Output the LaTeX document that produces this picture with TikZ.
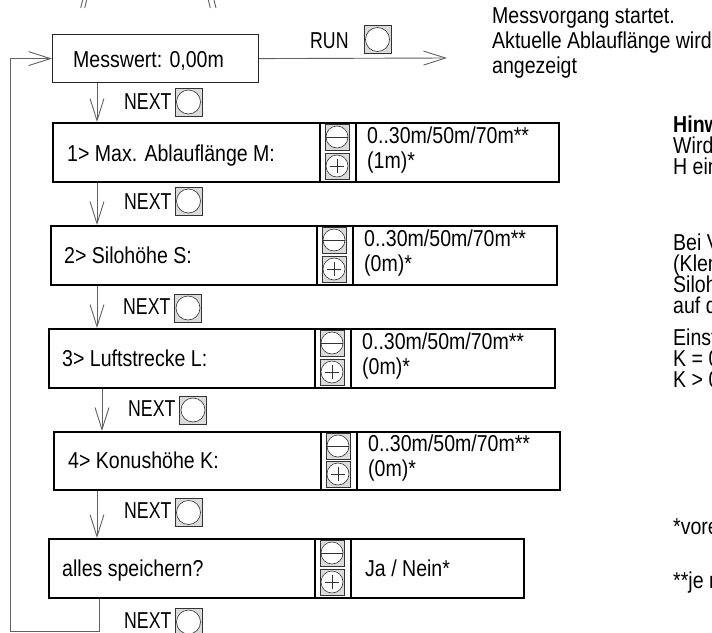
\documentclass[tikz,border=0pt]{standalone}
\usepackage{fontspec}
\setmainfont{Liberation Sans}[FakeStretch=0.85]
\newfontfamily\etroite{Liberation Sans}[FakeStretch=0.77]
\usepackage{xcolor}
\usepackage{tikz}
\usetikzlibrary{arrows.meta}
\definecolor{trait}{gray}{0.38}
\definecolor{fondtouche}{gray}{0.86}

\tikzset{
  texte/.style={anchor=base west, inner sep=0pt, font=\fontsize{23}{25}\selectfont},
  texteb/.style={anchor=base west, inner sep=0pt, font={\etroite\fontsize{23}{25}\selectfont}},
  cadre/.style={draw, line width=1.8pt, anchor=north west, inner sep=0pt, minimum height=59pt},
  fleche/.style={draw=trait, line width=0.9pt, -{Straight Barb[length=22pt,width=14pt]}},
  ligne/.style={draw=trait, line width=0.9pt},
  bouton/.style={draw=black!80, fill=fondtouche, line width=0.8pt, minimum width=27pt,
    minimum height=28pt, inner sep=0pt,
    path picture={\draw[fill=white, line width=0.6pt] (path picture bounding box.center) circle (12pt);}},
  touchemoins/.style={draw=black!80, fill=fondtouche, line width=0.8pt, minimum width=24pt,
    minimum height=26pt, inner sep=0pt,
    path picture={\draw[fill=white, line width=0.6pt] (path picture bounding box.center) circle (11pt);
      \draw[line width=0.6pt] ([xshift=-11pt]path picture bounding box.center) -- ([xshift=11pt]path picture bounding box.center);}},
  toucheplus/.style={touchemoins,
    path picture={\draw[fill=white, line width=0.6pt] (path picture bounding box.center) circle (11pt);
      \draw[line width=0.6pt] ([xshift=-7pt]path picture bounding box.center) -- ([xshift=7pt]path picture bounding box.center);
      \draw[line width=0.6pt] ([yshift=-7pt]path picture bounding box.center) -- ([yshift=7pt]path picture bounding box.center);}},
}

\begin{document}
\begin{tikzpicture}[x=1pt, y=-1pt]
    % Cadre de l'image
    \useasboundingbox (0,0) rectangle (712,632);
    \clip (0,0) rectangle (712,632);

    % Traits coupés en haut
    \draw[ligne] (80.7,8) -- (82.7,0) (84.7,8) -- (86.7,0);
    \draw[ligne] (208.3,0) -- (210.3,8) (214,0) -- (216,8);

    % Valeur mesurée
    \node[cadre, line width=1.2pt, draw=black!85, minimum width=206pt, minimum height=48pt] (mw) at (52,34) {};
    \node[texte] (mwt) at (73,67) {Messwert: 0,00m};

    % Touche RUN
    \coordinate (runfin) at (447,58);
    \draw[fleche] (mw.east) -- (runfin);
    \node[texteb] (run) at (310,48) {RUN};
    \node[bouton] (brun) at (377.5,39.5) {};
    \node[texte] (mv1) at (492,23) {Messvorgang startet.};
    \node[texte] (mv2) at (492,48) {Aktuelle Ablauflänge wird};
    \node[texte] (mv3) at (492,73) {angezeigt};

    % Ligne 1
    \node[cadre, minimum width=267pt] (l1) at (52,122) {};
    \node[cadre, minimum width=36pt] (k1) at (319,122) {};
    \node[cadre, minimum width=203pt] (w1) at (355,122) {};
    \node[touchemoins] (km1) at (337,137) {};
    \node[toucheplus] (kp1) at (337,166) {};
    \node[texte] (t1) at (67,161) {1> Max. Ablauflänge M:};
    \node[texte] (v1a) at (367,143) {0..30m/50m/70m**};
    \node[texte] (v1b) at (367,168) {(1m)*};

    % Ligne 2
    \node[cadre, minimum width=266pt] (l2) at (50,225) {};
    \node[cadre, minimum width=36pt] (k2) at (316,225) {};
    \node[cadre, minimum width=204pt] (w2) at (352,225) {};
    \node[touchemoins] (km2) at (334,240) {};
    \node[toucheplus] (kp2) at (334,269) {};
    \node[texte] (t2) at (64,263) {2> Silohöhe S:};
    \node[texte] (v2a) at (364,246) {0..30m/50m/70m**};
    \node[texte] (v2b) at (364,271) {(0m)*};

    % Ligne 3
    \node[cadre, minimum width=266pt] (l3) at (48,328) {};
    \node[cadre, minimum width=36pt] (k3) at (314,328) {};
    \node[cadre, minimum width=204pt] (w3) at (350,328) {};
    \node[touchemoins] (km3) at (332,343) {};
    \node[toucheplus] (kp3) at (332,372) {};
    \node[texte] (t3) at (62,366) {3> Luftstrecke L:};
    \node[texte] (v3a) at (362,349) {0..30m/50m/70m**};
    \node[texte] (v3b) at (362,374) {(0m)*};

    % Ligne 4
    \node[cadre, minimum width=267pt, minimum height=58pt] (l4) at (53,431) {};
    \node[cadre, minimum width=36pt, minimum height=58pt] (k4) at (320,431) {};
    \node[cadre, minimum width=203pt, minimum height=58pt] (w4) at (356,431) {};
    \node[touchemoins] (km4) at (338,446) {};
    \node[toucheplus] (kp4) at (338,474) {};
    \node[texte] (t4) at (68,468) {4> Konushöhe K:};
    \node[texte] (v4a) at (368,451) {0..30m/50m/70m**};
    \node[texte] (v4b) at (368,476) {(0m)*};

    % Ligne 5
    \node[cadre, minimum width=266pt] (l5) at (48,538) {};
    \node[cadre, minimum width=36pt] (k5) at (314,538) {};
    \node[cadre, minimum width=173pt] (w5) at (350,538) {};
    \node[touchemoins] (km5) at (332,553) {};
    \node[toucheplus] (kp5) at (332,582) {};
    \node[texte] (t5) at (62,576) {alles speichern?};
    \node[texte] (v5) at (365,576) {Ja / Nein*};

    % Flèches NEXT
    \coordinate (ax) at (97,0);
    \coordinate (bx) at (102,0);
    \coordinate (cx) at (99,0);
    \draw[fleche] (mw.south -| ax) -- (l1.north -| ax);
    \draw[fleche] (l1.south -| ax) -- (l2.north -| ax);
    \draw[fleche] (l2.south -| ax) -- (l3.north -| ax);
    \draw[fleche] (l3.south -| bx) -- (l4.north -| bx);
    \draw[fleche] (l4.south -| ax) -- (l5.north -| ax);

    % Retour au début
    \coordinate (coin) at (10,631);
    \draw[fleche] (l5.south -| cx) |- (coin) |- (mw.west);

    % Touches NEXT
    \node[texteb] (n1) at (124,109) {NEXT};
    \node[bouton] (bn1) at (188.5,102) {};
    \node[texteb] (n2) at (124,209) {NEXT};
    \node[bouton] (bn2) at (188.5,201) {};
    \node[texteb] (n3) at (123,314) {NEXT};
    \node[bouton] (bn3) at (188,308) {};
    \node[texteb] (n4) at (128,416) {NEXT};
    \node[bouton] (bn4) at (193,410) {};
    \node[texteb] (n5) at (124,518) {NEXT};
    \node[bouton] (bn5) at (188.5,512.5) {};
    \node[texteb] (n6) at (124,628) {NEXT};
    \node[bouton] (bn6) at (188.5,622) {};

    % Remarques à droite
    \node[texte, font=\fontsize{23}{25}\bfseries] (r1) at (673,132) {Hinw};
    \node[texte] (r2) at (673,153) {Wird};
    \node[texte] (r3) at (673,174) {H ein};
    \node[texte] (r4) at (673,250) {Bei V};
    \node[texte] (r5) at (673,271) {(Klem};
    \node[texte] (r6) at (673,292) {Siloh};
    \node[texte] (r7) at (673,313) {auf d};
    \node[texte] (r8) at (673,345) {Einst};
    \node[texte] (r9) at (673,366) {K = 0};
    \node[texte] (r10) at (673,387) {K > 0};
    \node[texte] (r11) at (673,534) {*vore};
    \node[texte] (r12) at (673,588) {**je n};
\end{tikzpicture}
\end{document}
